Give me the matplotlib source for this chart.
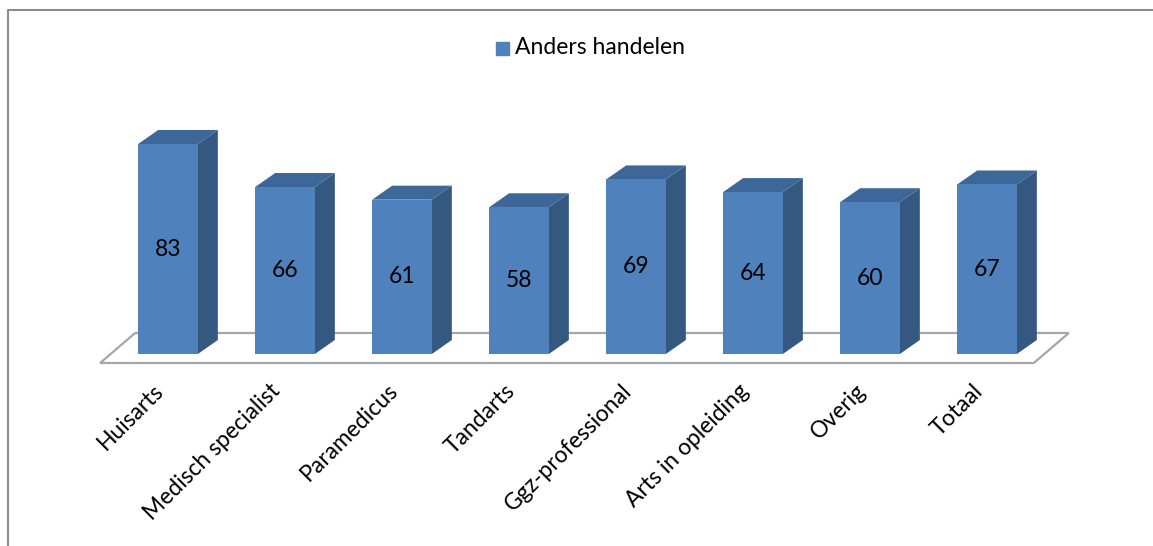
import matplotlib
matplotlib.use("Agg")
import matplotlib.pyplot as plt
from matplotlib.patches import Polygon
import numpy as np

categories = ["Huisarts", "Medisch specialist", "Paramedicus", "Tandarts",
              "Ggz-professional", "Arts in opleiding", "Overig", "Totaal"]
anders_handelen = [83, 66, 61, 58, 69, 64, 60, 67]
series_name = "Anders handelen"

front_col = "#4F81BD"
side_col = "#34587F"
top_col = "#3C6798"
floor_col = "#A6A6A6"

plt.rcParams['font.family'] = ['Lato', 'DejaVu Sans']

W, H = 1153, 546
fig = plt.figure(figsize=(W / 100, H / 100), dpi=100)
ax = fig.add_axes([0, 0, 1, 1])

# pixel geometry of the category axis / value axis
x0_px, step_px = 168, 117
y0_px, unit_px = 354, 2.53
ax.set_xlim(-x0_px / step_px, (W - x0_px) / step_px)
ax.set_ylim((y0_px - H) / unit_px, y0_px / unit_px)
ax.axis("off")

x = np.arange(len(categories))
w = 0.51
dx, dy = 20 / step_px, 14 / unit_px

# floor parallelogram
fx0, fx1 = -0.58, len(categories) - 1 + 0.40
fdx, fdy = 35 / step_px, 30 / unit_px
fy = -9 / unit_px
floor = Polygon([(fx0, fy), (fx1, fy), (fx1 + fdx, fy + fdy), (fx0 + fdx, fy + fdy)],
                closed=True, fill=False, edgecolor=floor_col, lw=1.6, zorder=1)
ax.add_patch(floor)

bars = ax.bar(x, anders_handelen, width=w, color=front_col, zorder=3)
for xi, v in zip(x, anders_handelen):
    r, l = xi + w / 2, xi - w / 2
    ax.add_patch(Polygon([(r, 0), (r + dx, dy), (r + dx, v + dy), (r, v)],
                         closed=True, color=side_col, lw=0, zorder=2))
    ax.add_patch(Polygon([(l, v), (l + dx, v + dy), (r + dx, v + dy), (r, v)],
                         closed=True, color=top_col, lw=0, zorder=2))
    ax.text(xi, v / 2, str(v), ha="center", va="center", fontsize=16.5,
            color="black", zorder=4)

# rotated category labels
for xi, name in zip(x, categories):
    ax.text(xi - 0.13, -26 / unit_px, name, rotation=45, rotation_mode="anchor",
            ha="right", va="top", fontsize=16.5, color="black")

# legend
fig.patches.append(plt.Rectangle((496 / W, 1 - 55 / H), 13 / W, 13 / H,
                                 transform=fig.transFigure, color=front_col))
fig.text(515 / W, 1 - 48 / H, series_name, ha="left", va="center", fontsize=16.5)

# chart frame (top and left edges)
fig.add_artist(plt.Line2D([8 / W, 8 / W, 1], [0, 1 - 10 / H, 1 - 10 / H],
                          transform=fig.transFigure, color="#8C8C8C", lw=1.5))

fig.savefig("out.png", dpi=100, facecolor="white")
